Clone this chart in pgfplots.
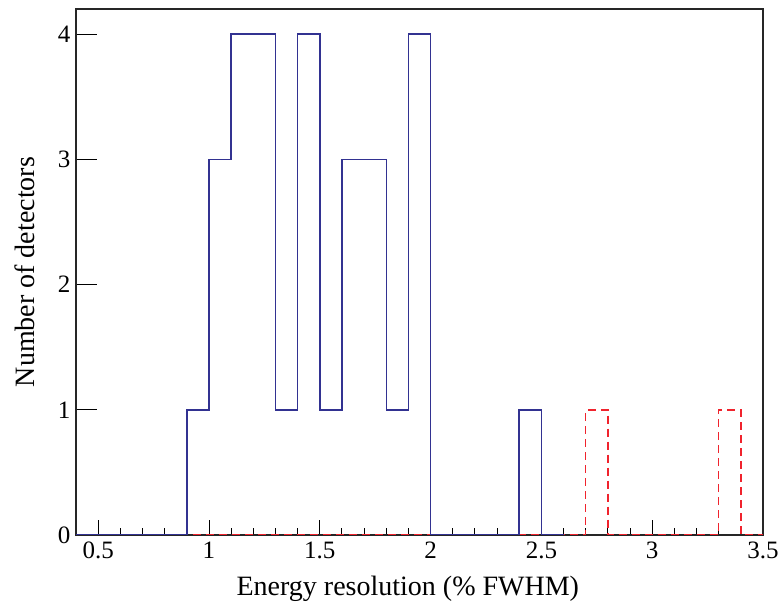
\documentclass[border=0pt]{standalone}
\usepackage{fontspec}
\setmainfont{Liberation Serif}
\usepackage{pgfplots}
\pgfplotsset{compat=1.18}
\definecolor{histblue}{RGB}{50,50,145}
\definecolor{histred}{RGB}{240,35,45}
\begin{document}
\begin{tikzpicture}
\begin{axis}[
  scale only axis,
  width=687bp, height=526bp,
  xmin=0.4, xmax=3.5, ymin=0, ymax=4.2,
  xtick={0.5,1,1.5,2,2.5,3,3.5},
  xticklabels={0.5,1,1.5,2,2.5,3,3.5},
  ytick={0,1,2,3,4},
  minor x tick num=4,
  xtick pos=bottom, ytick pos=left,
  tick align=inside,
  axis line style={line width=1.3bp, black!85},
  xtick style={line width=0.9bp, black, /pgfplots/major tick length=15bp, /pgfplots/minor tick length=7bp},
  ytick style={line width=0.9bp, black, /pgfplots/major tick length=21bp},
  /pgf/number format/assume math mode=true,
  ticklabel style={font=\fontsize{25bp}{28bp}\selectfont},
  xticklabel style={yshift=-3bp},
  yticklabel style={xshift=-2bp},
  label style={font=\fontsize{28bp}{32bp}\selectfont},
  xlabel={Energy resolution (\% FWHM)},
  ylabel={Number of detectors},
  xlabel style={at={(axis description cs:0.483,0)}, anchor=north, yshift=-38bp},
  ylabel style={at={(axis description cs:0,0.5)}, anchor=south, yshift=38bp},
  clip=true,
]
\addplot[const plot, histred, line width=1.5bp, dash pattern=on 8bp off 5bp] coordinates {
  (0.4,0) (2.7,1) (2.8,0) (3.3,1) (3.4,0) (3.5,0)
};
\addplot[const plot, histblue, line width=1.5bp] coordinates {
  (0.4,0) (0.9,1) (1.0,3) (1.1,4) (1.3,1) (1.4,4) (1.5,1) (1.6,3) (1.8,1) (1.9,4) (2.0,0) (2.4,1) (2.5,0) (2.6,0)
};
\end{axis}
\pgfresetboundingbox
\path[use as bounding box] ([shift={(-76bp,-77bp)}]current axis.south west) rectangle ([shift={(17bp,9bp)}]current axis.north east);
\end{tikzpicture}
\end{document}
